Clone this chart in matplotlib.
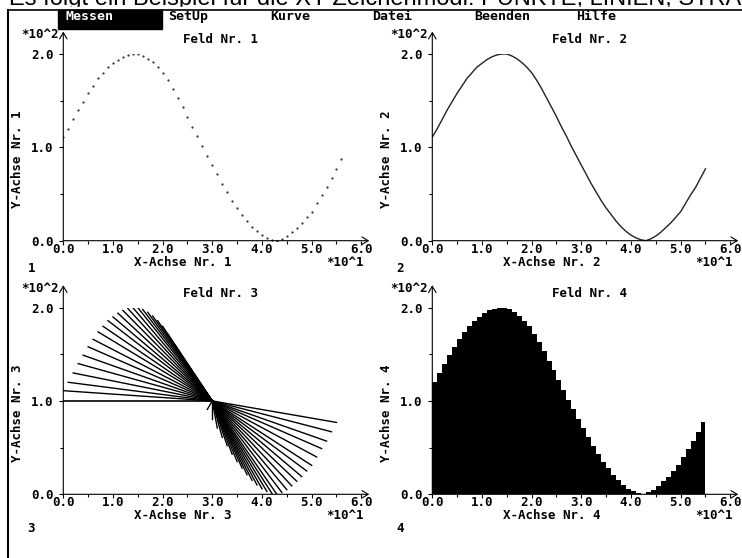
import numpy as np
import matplotlib.pyplot as plt
from matplotlib.patches import Rectangle
from matplotlib.lines import Line2D

# Messkurve (x: *10^1, y: *10^2)
x_vals = np.arange(57)
y_vals = np.array([111, 120, 130, 140, 149, 158, 166, 174, 180, 186,
                   190, 194, 197, 199, 200, 200, 198, 195, 191, 186,
                   180, 172, 163, 153, 143, 133, 122, 112, 101, 91,
                   81, 71, 61, 52, 43, 35, 28, 21, 15, 10,
                   6, 3, 1, 0, 2, 5, 9, 14, 19, 25,
                   31, 40, 49, 57, 67, 77, 88])
n_kurve = 56            # Punkte fuer Linien, Strahlen, Balken
ray_origin = (30, 100)  # Zentrum der Strahlen
ray_extra = (0, 100)

x_ticks = [0, 10, 20, 30, 40, 50, 60]
x_labels = ['0.0', '1.0', '2.0', '3.0', '4.0', '5.0', '6.0']
y_ticks = [0, 100, 200]
y_labels = ['0.0', '1.0', '2.0']
menu_items = ['Messen', 'SetUp', 'Kurve', 'Datei', 'Beenden', 'Hilfe']
headline = 'Es folgt ein Beispiel für die XY-Zeichenmodi: PUNKTE, LINIEN, STRAHLEN und BALKEN'

W, H = 742, 558
plt.rcParams['font.family'] = 'DejaVu Sans Mono'
plt.rcParams['font.weight'] = 'bold'
plt.rcParams['font.size'] = 9

fig = plt.figure(figsize=(W / 100, H / 100), dpi=100)


def fx(px):
    return px / W


def fy(py):
    return 1 - py / H


# Kopfzeile (oben abgeschnitten) und Menue
fig.text(fx(9), fy(4.5), headline, fontsize=17, family='Liberation Sans',
         weight='normal', va='baseline', ha='left', zorder=1)
fig.add_artist(Rectangle((0, fy(30)), 1, fy(6.5) - fy(30), transform=fig.transFigure,
                         color='white', zorder=1.5))
fig.add_artist(Line2D([fx(8), 1], [fy(9.5), fy(9.5)], lw=1.2, color='black', zorder=2))
fig.add_artist(Line2D([fx(8), fx(8)], [fy(9.5), 0], lw=1.5, color='black', zorder=2))
fig.add_artist(Rectangle((fx(58), fy(28.5)), fx(104), fy(9.5) - fy(28.5),
                         transform=fig.transFigure, color='black', zorder=2.5))
for i, item in enumerate(menu_items):
    fig.text(fx(66 + 102 * i), fy(16.5), item, color='white' if i == 0 else 'black',
             fontsize=9.5, ha='left', va='center', zorder=3)

origins = [(63.3, 240.7), (432.3, 240.7), (63.3, 494.3), (432.3, 494.3)]
num_offset = [28, 28, 34, 34]

for k, (ox, oy) in enumerate(origins):
    nr = k + 1
    ax = fig.add_axes([fx(ox), fy(oy), fx(298), (186.7 / H)])
    ax.set_xlim(0, 60)
    ax.set_ylim(0, 200)
    ax.patch.set_alpha(0)
    for s in ax.spines.values():
        s.set_visible(False)
    ax.set_xticks(x_ticks)
    ax.set_xticklabels(x_labels)
    ax.set_xticks(range(5, 60, 10), minor=True)
    ax.set_yticks(y_ticks)
    ax.set_yticklabels(y_labels)
    ax.set_yticks([50, 150], minor=True)
    ax.tick_params(which='major', direction='out', length=3, width=0.8)
    ax.tick_params(which='minor', direction='out', length=2.5, width=0.8)
    ax.tick_params(axis='x', pad=-1.5)
    ax.tick_params(axis='y', pad=4)

    arrow = dict(arrowstyle='->,head_length=0.5,head_width=0.3', lw=0.8,
                 color='black', shrinkA=0, shrinkB=0)
    ax.annotate('', xy=(0, 224), xytext=(0, 0), arrowprops=arrow, annotation_clip=False)
    ax.annotate('', xy=(61.6, 0), xytext=(0, 0), arrowprops=arrow, annotation_clip=False)

    if nr == 1:
        ax.plot(x_vals, y_vals, ls='none', marker='o', ms=1.6, mew=0, color='#333333')
    elif nr == 2:
        ax.plot(x_vals[:n_kurve], y_vals[:n_kurve], color='#222222', lw=1.0)
    elif nr == 3:
        ax.plot([ray_origin[0], ray_extra[0]], [ray_origin[1], ray_extra[1]],
                color='black', lw=1.2)
        for xv, yv in zip(x_vals[:n_kurve], y_vals[:n_kurve]):
            ax.plot([ray_origin[0], xv], [ray_origin[1], yv], color='black', lw=1.0)
    else:
        ax.fill_between(x_vals[:n_kurve], 0, y_vals[:n_kurve], step='pre',
                        color='black', lw=0)

    fig.text(fx(ox - 5), fy(oy - 206), '*10^2', ha='right', va='center')
    fig.text(fx(ox + 157), fy(oy - 201), f'Feld Nr. {nr}', ha='center', va='center')
    fig.text(fx(ox - 46), fy(oy - 81), f'Y-Achse Nr. {nr}', rotation=90,
             ha='center', va='center')
    fig.text(fx(ox + 119), fy(oy + 21.5), f'X-Achse Nr. {nr}', ha='center', va='center')
    fig.text(fx(ox + 263), fy(oy + 21.5), '*10^1', ha='left', va='center')
    fig.text(fx(ox - 32), fy(oy + num_offset[k]), str(nr), ha='center', va='center')

fig.savefig('out.png', dpi=100)
